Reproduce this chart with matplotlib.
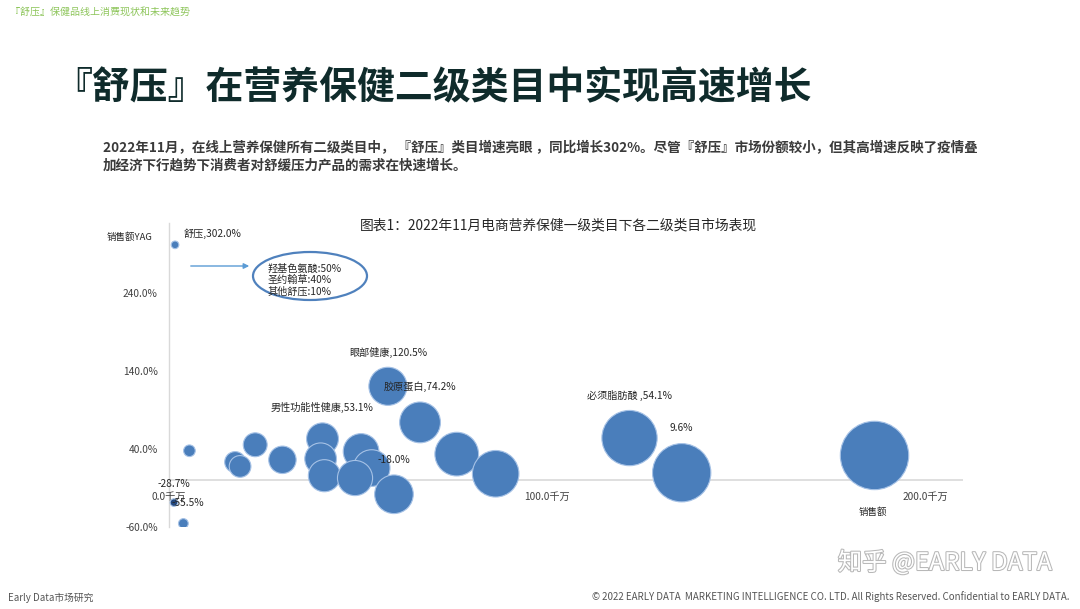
import matplotlib
matplotlib.use("Agg")
import matplotlib.pyplot as plt
import numpy as np
from matplotlib.patches import Ellipse, FancyArrowPatch
import matplotlib.patheffects as pe

plt.rcParams['font.family'] = ['Noto Sans CJK SC', 'DejaVu Sans']

# ---------------- data ----------------
# sales (千万) and YoY growth (%) for each second-level category bubble
sales = [1.6, 5.4, 17.5, 18.8, 22.8, 30.0, 40.6, 40.1, 41.1, 50.8, 53.6, 49.2,
         59.5, 57.9, 66.4, 76.1, 86.4, 121.8, 135.6, 186.6, 1.3, 3.8]
growth = [302.0, 37.8, 23.3, 17.7, 45.5, 26.2, 53.1, 27.5, 5.8, 36.9, 15.6, 2.8,
          -18.0, 120.5, 74.2, 33.5, 8.3, 54.1, 9.6, 31.8, -28.7, -55.5]
labels = ['舒压,302.0%', '', '', '', '', '', '男性功能性健康,53.1%', '', '', '', '', '',
          '-18.0%', '眼部健康,120.5%', '胶原蛋白,74.2%', '', '', '必须脂肪酸 ,54.1%', '9.6%', '',
          '-28.7%', '-55.5%']
y_ticks = [-60, 40, 140, 240]
x_ticks = [0, 100, 200]
x_tick_labels = ['0.0千万', '100.0千万', '200.0千万']
breakdown = ['羟基色氨酸:50%', '圣约翰草:40%', '其他舒压:10%']

W, H = 1080, 609
fig = plt.figure(figsize=(W / 100, H / 100), dpi=100)
fig.patch.set_facecolor('white')


def fx(x):
    return x / W


def fy(y):
    return 1 - y / H


# ---------------- header texts ----------------
fig.text(fx(10), fy(12), '『舒压』保健品线上消费现状和未来趋势', fontsize=7.2,
         color='#8DC55A', va='center', ha='left')
fig.text(fx(54), fy(87), '『舒压』在营养保健二级类目中实现高速增长', fontsize=27.3,
         fontweight='bold', color='#0F2B2B', va='center', ha='left')
fig.text(fx(103), fy(148),
         '2022年11月，在线上营养保健所有二级类目中， 『舒压』类目增速亮眼 ，同比增长302%。尽管『舒压』市场份额较小，但其高增速反映了疫情叠',
         fontsize=9.75, fontweight='bold', color='#3A3A3A', va='center', ha='left')
fig.text(fx(103), fy(166), '加经济下行趋势下消费者对舒缓压力产品的需求在快速增长。',
         fontsize=9.75, fontweight='bold', color='#3A3A3A', va='center', ha='left')
fig.text(fx(558), fy(225), '图表1：2022年11月电商营养保健一级类目下各二级类目市场表现',
         fontsize=9.9, color='#262626', va='center', ha='center')

# ---------------- axes ----------------
x0_px, x1_px = 169, 963
y_bot_px, y_top_px = 527, 223
ax = fig.add_axes([fx(x0_px), fy(y_bot_px), (x1_px - x0_px) / W, (y_bot_px - y_top_px) / H])
ax.set_xlim(0, 210)
ax.set_ylim(-60, 330)
ax.patch.set_alpha(0)
for s in ['top', 'right', 'bottom']:
    ax.spines[s].set_visible(False)
ax.spines['left'].set_color('#D9D9D9')
ax.spines['left'].set_linewidth(1)
ax.axhline(0, color='#D9D9D9', lw=1.2, zorder=0)

ax.set_xticks([])
ax.set_yticks(y_ticks)
ax.set_yticklabels([f'{v:.1f}%' for v in y_ticks], fontsize=7.3, color='#404040')
ax.tick_params(axis='y', length=0, pad=8)

for xv, lab in zip(x_ticks, x_tick_labels):
    ax.annotate(lab, (xv, 0), xytext=(0, -12), textcoords='offset points',
                ha='center', va='center', fontsize=7.3, color='#404040')

# bubbles: area proportional to sales
sizes = [max(13.0 * s, 30) for s in sales]
colors = ['#4A7EBB'] * len(sales)
colors[-2] = '#23487F'
ax.scatter(sales, growth, s=sizes, c=colors, edgecolors='#A6C2E6', linewidths=0.8, zorder=3)

for xv, yv, lab in zip(sales, growth, labels):
    if not lab:
        continue
    r_pt = 0.72 * 2.5 * np.sqrt(xv)
    if lab.startswith('舒压'):
        ax.annotate(lab, (xv, yv), xytext=(6, 8), textcoords='offset points',
                    ha='left', va='center', fontsize=7.3, color='#262626', zorder=5)
    elif lab == '-55.5%':
        ax.annotate(lab, (xv, yv), xytext=(3, 15), textcoords='offset points',
                    ha='center', va='center', fontsize=7.3, color='#262626', zorder=5)
    else:
        ax.annotate(lab, (xv, yv), xytext=(0, r_pt + 11), textcoords='offset points',
                    ha='center', va='center', fontsize=7.3, color='#262626', zorder=5)

fig.text(fx(130), fy(237), '销售额YAG', fontsize=6.8, color='#262626', ha='center', va='center')
fig.text(fx(873), fy(512), '销售额', fontsize=6.8, color='#262626', ha='center', va='center')

# ---------------- annotation (arrow + ellipse) ----------------
arrow = FancyArrowPatch((fx(188), fy(266)), (fx(252), fy(266)), transform=fig.transFigure,
                        arrowstyle='-|>', mutation_scale=8, color='#5B9BD5', lw=1.0)
fig.patches.append(arrow)
ell = Ellipse((fx(310), fy(276)), width=114 / W, height=48 / H, transform=fig.transFigure,
              fill=False, edgecolor='#4F81BD', lw=1.6)
fig.patches.append(ell)
for i, t in enumerate(breakdown):
    fig.text(fx(268), fy(268 + 12 * i), t, fontsize=7.3, color='#262626', ha='left', va='center')

# ---------------- footer ----------------
fig.text(fx(8), fy(598), 'Early Data市场研究', fontsize=7.0, color='#555555', ha='left', va='center')
fig.text(fx(1070), fy(597),
         '© 2022 EARLY DATA  MARKETING INTELLIGENCE CO. LTD. All Rights Reserved. Confidential to EARLY DATA.',
         fontsize=7.0, color='#555555', ha='right', va='center')
fig.text(fx(1052), fy(563), '知乎 @EARLY DATA', fontsize=17.5, color='white', ha='right', va='center',
         path_effects=[pe.withStroke(linewidth=1.5, foreground='#B8B8B8')])

fig.savefig('out.png', dpi=100, facecolor='white')
